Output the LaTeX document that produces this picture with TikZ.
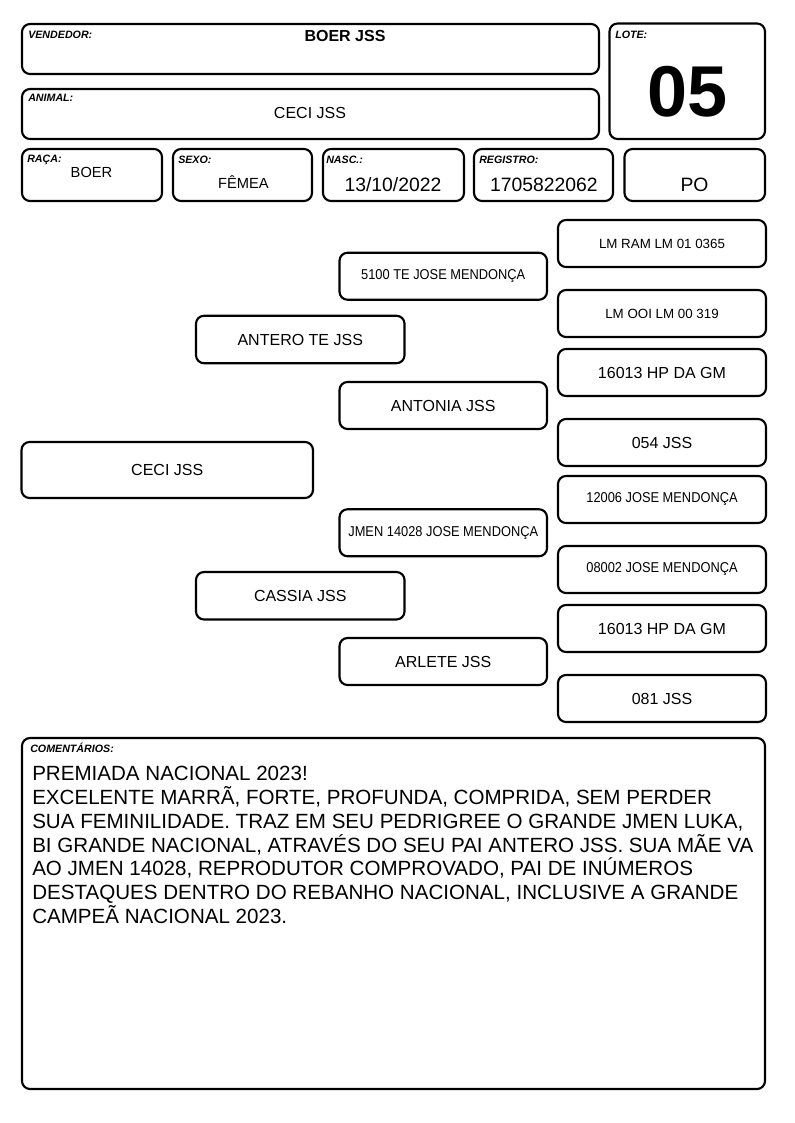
\documentclass[tikz,border=0pt]{standalone}
\usepackage{fontspec}
\usepackage{graphicx}
\setmainfont{Liberation Sans}
\usetikzlibrary{fit}
\tikzset{
  box/.style={draw=black, line width=1.6pt, rounded corners=6pt, inner sep=0pt, fill=white},
  col4/.style={box, minimum width=156pt, minimum height=35.25pt},
  col3/.style={box, minimum width=155.6pt, minimum height=35.25pt},
  col2/.style={box, minimum width=156.4pt, minimum height=35.6pt},
  lbl/.style={anchor=base west, inner sep=0pt, font=\fontsize{8}{9}\selectfont\bfseries\itshape},
  val/.style={anchor=base, inner sep=0pt},
  big/.style={font=\fontsize{12}{14}\selectfont},
  lm/.style={font=\fontsize{10}{12}\selectfont},
  small/.style={font=\fontsize{10.7}{12}\selectfont},
}
\newcommand{\narrowtxt}[1]{\scalebox{0.9}[1]{#1}}
\begin{document}
\begin{tikzpicture}[x=0.75pt, y=-0.75pt]
\useasboundingbox[fill=white] (0,0) rectangle (794,1123);
% header boxes
\node[box, fit={(22,24) (599,74)}] (vend) {};
\node[box, fit={(22,89) (599,139)}] (anim) {};
\node[box, fit={(609.5,23.5) (765,139)}] (lote) {};
\node[box, fit={(22,149) (162,201)}] (raca) {};
\node[box, fit={(173,149) (312,201)}] (sexo) {};
\node[box, fit={(323,149) (464,201)}] (nasc) {};
\node[box, fit={(474,149) (613,201)}] (reg) {};
\node[box, fit={(624.5,149) (765,201)}] (po) {};
% labels
\node[lbl] (lvend) at (28,39) {VENDEDOR:};
\node[lbl] (lanim) at (28,102) {ANIMAL:};
\node[lbl] (llote) at (615,39) {LOTE:};
\node[lbl] (lraca) at (27,163) {RAÇA:};
\node[lbl] (lsexo) at (178,164) {SEXO:};
\node[lbl] (lnasc) at (326,164) {NASC.:};
\node[lbl] (lreg) at (479,164) {REGISTRO:};
% values
\node[val, font=\fontsize{12}{14}\selectfont\bfseries] (vvend) at (345,42) {BOER JSS};
\node[val, font=\fontsize{12}{14}\selectfont] (vanim) at (310,119) {CECI JSS};
\node[val, font=\fontsize{54}{60}\selectfont\bfseries] (vlote) at (687.5,116.7) {05};
\node[val, font=\fontsize{11}{13}\selectfont] (vraca) at (91.5,178) {BOER};
\node[val, font=\fontsize{11}{13}\selectfont] (vsexo) at (243.5,189) {FÊMEA};
\node[val, font=\fontsize{14.5}{16}\selectfont] (vnasc) at (393,192) {13/10/2022};
\node[val, font=\fontsize{14.5}{16}\selectfont] (vreg) at (544,192) {1705822062};
\node[val, font=\fontsize{14.5}{16}\selectfont] (vpo) at (694.5,192) {PO};
% pedigree column 4
\node[col4, lm] (g1) at (662,243.5) {LM RAM LM 01 0365};
\node[col4, lm] (g2) at (662,313.5) {LM OOI LM 00 319};
\node[col4, big] (g3) at (662,372.5) {16013 HP DA GM};
\node[col4, big] (g4) at (662,442.5) {054 JSS};
\node[col4, small] (g5) at (662,499.5) {\narrowtxt{12006 JOSE MENDONÇA}};
\node[col4, small] (g6) at (662,569.5) {\narrowtxt{08002 JOSE MENDONÇA}};
\node[col4, big] (g7) at (662,628.5) {16013 HP DA GM};
\node[col4, big] (g8) at (662,698.5) {081 JSS};
% column 3
\node[col3, small] (f1) at (443.25,276.25) {\narrowtxt{5100 TE JOSE MENDONÇA}};
\node[col3, big] (f2) at (443.25,405.5) {ANTONIA JSS};
\node[col3, small] (f3) at (443.25,532.75) {\narrowtxt{JMEN 14028 JOSE MENDONÇA}};
\node[col3, big] (f4) at (443.25,661.5) {ARLETE JSS};
% column 2
\node[col2, big] (p1) at (300.25,339.5) {ANTERO TE JSS};
\node[col2, big] (p2) at (300.25,595.75) {CASSIA JSS};
% column 1
\node[box, big, minimum width=218.6pt, minimum height=42pt] (ceci) at (167.25,470) {CECI JSS};
% comments
\node[box, fit={(22,738) (765,1089)}] (com) {};
\node[lbl] (lcom) at (30,752.5) {COMENTÁRIOS:};
\node[anchor=north west, inner sep=0pt, align=left, font=\fontsize{15.43}{17.85}\selectfont] (ctext) at (32,766) {PREMIADA NACIONAL 2023!\\
EXCELENTE MARRÃ, FORTE, PROFUNDA, COMPRIDA, SEM PERDER\\
SUA FEMINILIDADE. TRAZ EM SEU PEDRIGREE O GRANDE JMEN LUKA,\\
BI GRANDE NACIONAL, ATRAVÉS DO SEU PAI ANTERO JSS. SUA MÃE VA\\
AO JMEN 14028, REPRODUTOR COMPROVADO, PAI DE INÚMEROS\\
DESTAQUES DENTRO DO REBANHO NACIONAL, INCLUSIVE A GRANDE\\
CAMPEÃ NACIONAL 2023.};
\end{tikzpicture}
\end{document}
